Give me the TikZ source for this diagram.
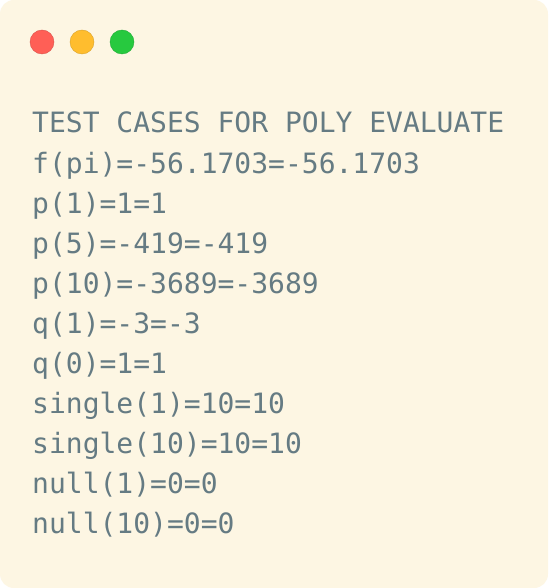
\documentclass[tikz,border=0pt]{standalone}
\usepackage{fontspec}
\newfontfamily\codefont{DejaVu Sans Mono}
\definecolor{bgpaper}{HTML}{FDF6E3}
\definecolor{codetext}{HTML}{657B83}
\definecolor{btnred}{HTML}{FF5F56}
\definecolor{btnyellow}{HTML}{FFBD2E}
\definecolor{btngreen}{HTML}{27C93F}
\tikzset{
  codeline/.style={anchor=base west, inner sep=0pt, text=codetext, font=\codefont\fontsize{28}{28}\selectfont},
  btn/.style={circle, minimum size=24pt, inner sep=0pt}
}
\begin{document}
\begin{tikzpicture}[x=1pt,y=-1pt]
\useasboundingbox (0,0) rectangle (548,588);
\fill[white] (0,0) rectangle (548,588);
\fill[bgpaper, rounded corners=14pt] (0,0) rectangle (548,588);
\node[btn, fill=btnred, draw=btnred!85!black, line width=0.4pt] (r) at (42,42) {};
\node[btn, fill=btnyellow, draw=btnyellow!85!black, line width=0.4pt] (y) at (82,42) {};
\node[btn, fill=btngreen, draw=btngreen!85!black, line width=0.4pt] (g) at (122,42) {};
\node[codeline] (l1) at (32,133) {TEST CASES FOR POLY EVALUATE};
\node[codeline] (l2) at (32,173) {f(pi)=-56.1703=-56.1703};
\node[codeline] (l3) at (32,213) {p(1)=1=1};
\node[codeline] (l4) at (32,253) {p(5)=-419=-419};
\node[codeline] (l5) at (32,293) {p(10)=-3689=-3689};
\node[codeline] (l6) at (32,333) {q(1)=-3=-3};
\node[codeline] (l7) at (32,373) {q(0)=1=1};
\node[codeline] (l8) at (32,413) {single(1)=10=10};
\node[codeline] (l9) at (32,453) {single(10)=10=10};
\node[codeline] (l10) at (32,493) {null(1)=0=0};
\node[codeline] (l11) at (32,533) {null(10)=0=0};
\end{tikzpicture}
\end{document}
